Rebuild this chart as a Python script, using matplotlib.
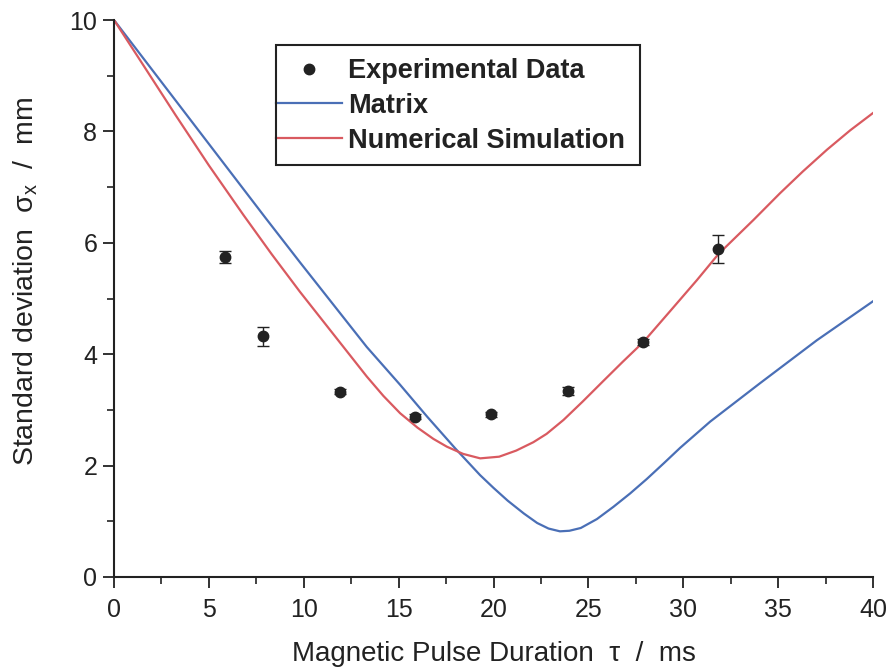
import matplotlib
matplotlib.use("Agg")
import matplotlib.pyplot as plt
from matplotlib.ticker import MultipleLocator
from matplotlib.lines import Line2D
from matplotlib.patches import Rectangle

# ---- data ----
exp_x = [5.85, 7.85, 11.9, 15.85, 19.85, 23.9, 27.9, 31.85]
exp_y = [5.75, 4.32, 3.33, 2.88, 2.92, 3.34, 4.22, 5.89]
exp_err = [0.11, 0.17, 0.05, 0.05, 0.05, 0.08, 0.05, 0.25]

matrix_x = [0.0, 4.0, 8.0, 9.8, 13.32, 15.08, 16.5, 17.98, 19.29, 20.0,
            20.75, 21.6, 22.3, 22.9, 23.5, 24.0, 24.6, 25.45, 26.32, 27.2,
            28.08, 29.0, 29.84, 31.42, 34.05, 37.04, 40.0]
matrix_y = [10.0, 8.22, 6.44, 5.65, 4.13, 3.45, 2.88, 2.31, 1.83, 1.60,
            1.37, 1.14, 0.97, 0.87, 0.82, 0.83, 0.88, 1.04, 1.26, 1.50,
            1.76, 2.05, 2.32, 2.79, 3.48, 4.25, 4.95]

sim_x = [0.0, 1.6, 3.25, 5.0, 6.82, 8.3, 9.8, 11.56, 13.32, 14.2, 15.08,
         16.0, 16.83, 17.54, 18.4, 19.3, 20.3, 21.2, 22.1, 22.8, 23.69,
         24.7, 25.79, 26.8, 27.9, 29.3, 30.72, 31.86, 33.7, 35.1, 36.3,
         37.57, 38.8, 40.0]
sim_y = [10.0, 9.16, 8.29, 7.39, 6.50, 5.80, 5.12, 4.36, 3.60, 3.25, 2.94,
         2.68, 2.48, 2.34, 2.21, 2.13, 2.16, 2.27, 2.42, 2.57, 2.82,
         3.15, 3.52, 3.86, 4.22, 4.77, 5.33, 5.80, 6.41, 6.89, 7.28,
         7.67, 8.02, 8.33]

labels = ["Experimental Data", "Matrix", "Numerical Simulation"]

plt.rcParams['font.family'] = ['Liberation Sans', 'DejaVu Sans']

fig = plt.figure(figsize=(8.88, 6.67), dpi=100)
ax = fig.add_axes([114/888, 1 - 577/667, (873-114)/888, (577-20)/667])

blue = "#4a6fb6"
red = "#d95a60"
ink = "#222222"

ax.plot(matrix_x, matrix_y, color=blue, lw=1.6, zorder=2)
ax.plot(sim_x, sim_y, color=red, lw=1.6, zorder=2)
ax.errorbar(exp_x, exp_y, yerr=exp_err, fmt='o', color=ink,
            markersize=7.5, capsize=4, elinewidth=1.0, capthick=1.0,
            zorder=3)

ax.set_xlim(0, 40)
ax.set_ylim(0, 10)
ax.xaxis.set_major_locator(MultipleLocator(5))
ax.xaxis.set_minor_locator(MultipleLocator(2.5))
ax.yaxis.set_major_locator(MultipleLocator(2))
ax.yaxis.set_minor_locator(MultipleLocator(1))

for s in ['top', 'right']:
    ax.spines[s].set_visible(False)
for s in ['left', 'bottom']:
    ax.spines[s].set_linewidth(1.5)
    ax.spines[s].set_color(ink)

ax.tick_params(which='major', direction='out', length=8, width=1.3,
               colors=ink, labelsize=18, pad=7)
ax.tick_params(axis='y', which='major', pad=4)
ax.tick_params(which='minor', direction='out', length=5, width=1.2,
               colors=ink)

ax.set_xlabel("Magnetic Pulse Duration  τ  /  ms", fontsize=20,
              color=ink, labelpad=14)
ax.set_ylabel(r"Standard deviation  $\mathregular{\sigma_x}$  /  mm",
              fontsize=20.5, color=ink)
ax.yaxis.set_label_coords(-0.097, 0.531)

# legend with square frame
handles = [Line2D([], [], ls='none', marker='o', color=ink, markersize=7.5),
           Line2D([], [], color=blue, lw=1.6),
           Line2D([], [], color=red, lw=1.6)]
leg = ax.legend(handles, labels,
                loc='upper left', bbox_to_anchor=(276/888, 1 - 58/667),
                bbox_transform=fig.transFigure, frameon=False,
                fontsize=19.5, handlelength=2.45, handletextpad=0.2,
                labelspacing=0.33, borderpad=0.0, borderaxespad=0)
for t in leg.get_texts():
    t.set_fontweight('bold')
    t.set_color(ink)
fig.add_artist(Rectangle((276/888, 1 - 165/667), (640-276)/888, (165-45)/667,
                         transform=fig.transFigure, fill=False,
                         edgecolor=ink, lw=1.5, zorder=5))

fig.savefig("out.png", dpi=100)
